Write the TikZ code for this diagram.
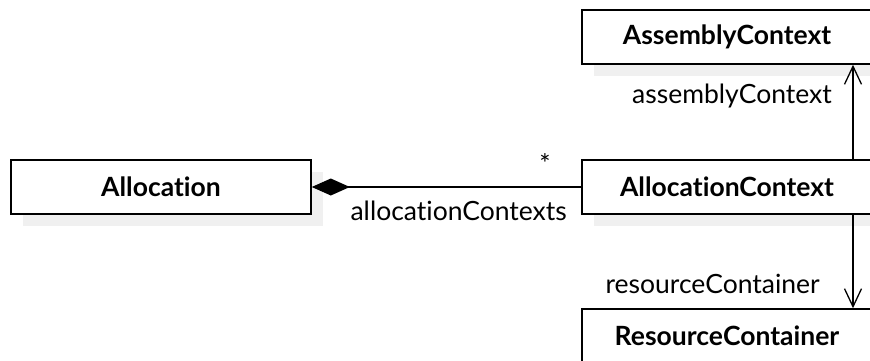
\documentclass[tikz,border=0pt]{standalone}
\usepackage{fontspec}
\setmainfont{Lato}[Ligatures=NoCommon]
\usetikzlibrary{arrows.meta}
\definecolor{shade}{RGB}{240,240,240}
\tikzset{
  umlclass/.style={draw=black, line width=1.6pt, fill=white, minimum height=54pt,
    inner sep=0pt, font=\fontsize{26.5}{30}\selectfont\bfseries},
  boxshadow/.style={fill=shade, draw=none},
  assoc/.style={draw=black, line width=1.3pt},
  nav/.style={assoc, -{Straight Barb[length=18pt,width=17pt,line width=1.3pt]}},
  rolelabel/.style={inner sep=0pt, font=\fontsize{26.5}{30}\selectfont}
}
\begin{document}
\begin{tikzpicture}[x=1pt,y=-1pt]
  \clip (0,0) rectangle (870,361);
  \useasboundingbox (0,0) rectangle (870,361);
  % drop shadows
  \fill[boxshadow] (23,172) rectangle (323,226);
  \fill[boxshadow] (594,172) rectangle (884,226);
  \fill[boxshadow] (594,22) rectangle (884,76);
  % classes
  \node[umlclass, minimum width=300pt] (alloc) at (161,187) {Allocation};
  \node[umlclass, minimum width=290pt] (actx) at (727,187) {AllocationContext};
  \node[umlclass, minimum width=290pt] (asm) at (727,37) {AssemblyContext};
  \node[umlclass, minimum width=290pt] (res) at (727,336) {ResourceContainer};
  % composition
  \draw[assoc, {Diamond[length=38pt,width=17pt,fill=black]}-] (alloc.east) -- (actx.west);
  \node[rolelabel] (mult) at (545,164) {*};
  \node[rolelabel, anchor=east] (roleAC) at (567,211) {allocationContexts};
  % navigable references
  \draw[nav] ([xshift=126pt]actx.north) -- ([xshift=126pt]asm.south);
  \node[rolelabel, anchor=east] (roleAsm) at (832,96) {assemblyContext};
  \draw[nav] ([xshift=126pt]actx.south) -- ([xshift=126pt]res.north);
  \node[rolelabel, anchor=east] (roleRes) at (820,284) {resourceContainer};
\end{tikzpicture}
\end{document}
